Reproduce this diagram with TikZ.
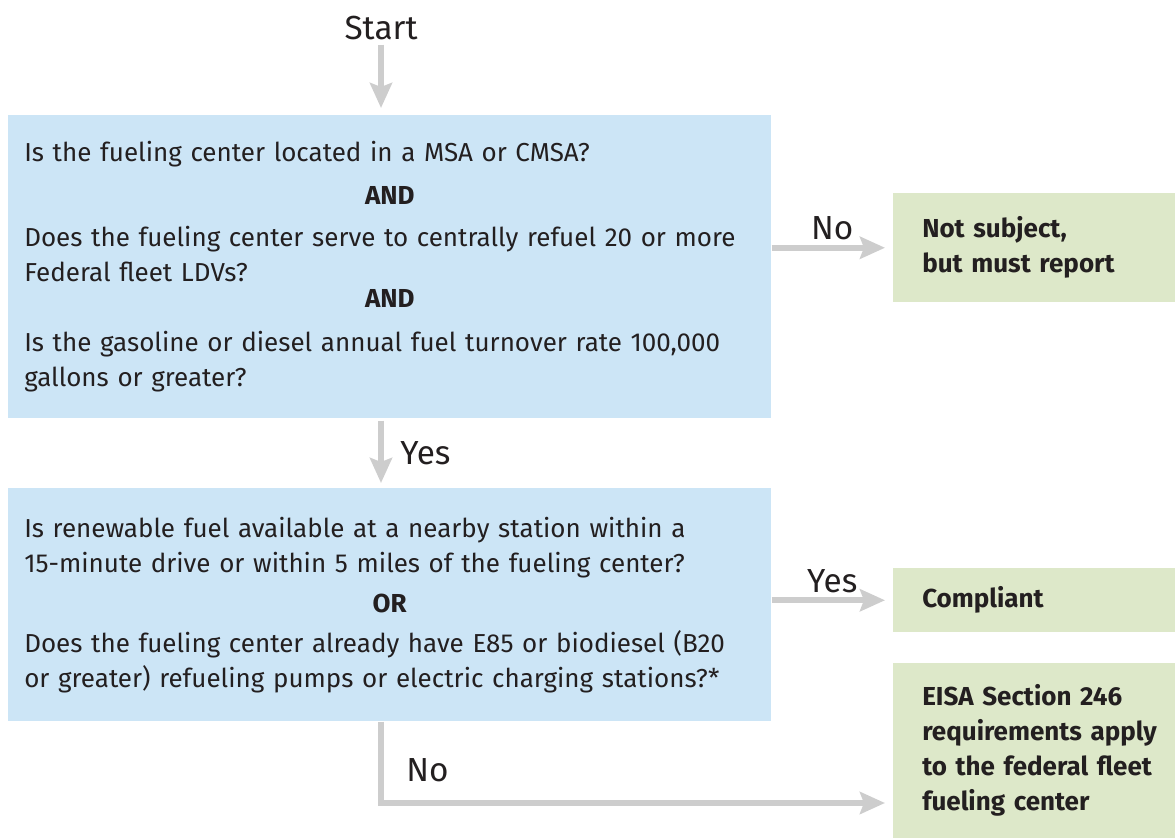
\documentclass[tikz,border=0pt]{standalone}
\usepackage{fontspec}
\setmainfont{Fira Sans}
\usetikzlibrary{arrows.meta}
\definecolor{qblue}{HTML}{CCE5F6}
\definecolor{rgreen}{HTML}{DDE8C9}
\definecolor{flowgray}{HTML}{CDCDCD}
\definecolor{ink}{HTML}{231F20}
\begin{document}
\begin{tikzpicture}[x=0.75pt, y=-0.75pt, text=ink,
  font=\fontsize{19.5}{26.25}\selectfont,
  question/.style={fill=qblue, anchor=north west, inner sep=0pt, minimum width=572.25pt, text width=548.25pt, align=left},
  result/.style={fill=rgreen, anchor=north west, inner sep=0pt, minimum width=211.5pt, text width=189.75pt, align=left, execute at begin node={\leftskip=10.875pt}, font=\fontsize{19.5}{26.25}\selectfont\bfseries},
  tag/.style={font=\fontsize{25}{30}\selectfont},
  flow/.style={draw=flowgray, line width=4.5pt, -{Stealth[length=18.75pt, width=16.5pt, inset=3pt]}}]
\useasboundingbox (0,0) rectangle (1175,838);
\node[tag] (start) at (381,28) {Start};
\node[question, minimum height=227.25pt] (q1) at (8,115) {Is the fueling center located in a MSA or CMSA?\\[6pt]
\hspace*{\fill}\textbf{AND}\hspace*{\fill}\mbox{}\\[5.25pt]
Does the fueling center serve to centrally refuel 20 or more\\
Federal fleet LDVs?\\[-6.75pt]
\hspace*{\fill}\textbf{AND}\hspace*{\fill}\mbox{}\\[6.75pt]
Is the gasoline or diesel annual fuel turnover rate 100,000\\
gallons or greater?};
\node[question, minimum height=174.75pt] (q2) at (8,488) {Is renewable fuel available at a nearby station within a\\
15-minute drive or within 5 miles of the fueling center?\\[3.75pt]
\hspace*{\fill}\textbf{OR}\hspace*{\fill}\mbox{}\\[3.75pt]
Does the fueling center already have E85 or biodiesel (B20\\
or greater) refueling pumps or electric charging stations?*};
\node[result, minimum height=81.75pt] (g1) at (893,193) {Not subject,\\ but must report};
\node[result, minimum height=48pt] (g2) at (893,568) {Compliant};
\node[result, minimum height=131.25pt] (g3) at (893,663) {EISA Section 246\\ requirements apply\\ to the federal fleet\\ fueling center};
\coordinate (turn) at (381,803);

\draw[flow, shorten >=5.25pt] (start) -- (start |- q1.north);
\draw[flow, shorten <=1.5pt, shorten >=3.75pt] (q1.south -| start) -- node[tag, right=9pt] {Yes} (q2.north -| start);
\draw[flow, shorten >=6pt] (q1.east |- g1.west) -- node[tag, above] {No} (g1.west);
\draw[flow, shorten >=6pt] (q2.east |- g2.west) -- node[tag, above] {Yes} (g2.west);
\draw[flow, shorten >=6pt] (q2.south -| start) -- node[tag, right=13.5pt, pos=0.6] {No} (turn) -- (turn -| g3.west);
\end{tikzpicture}
\end{document}
